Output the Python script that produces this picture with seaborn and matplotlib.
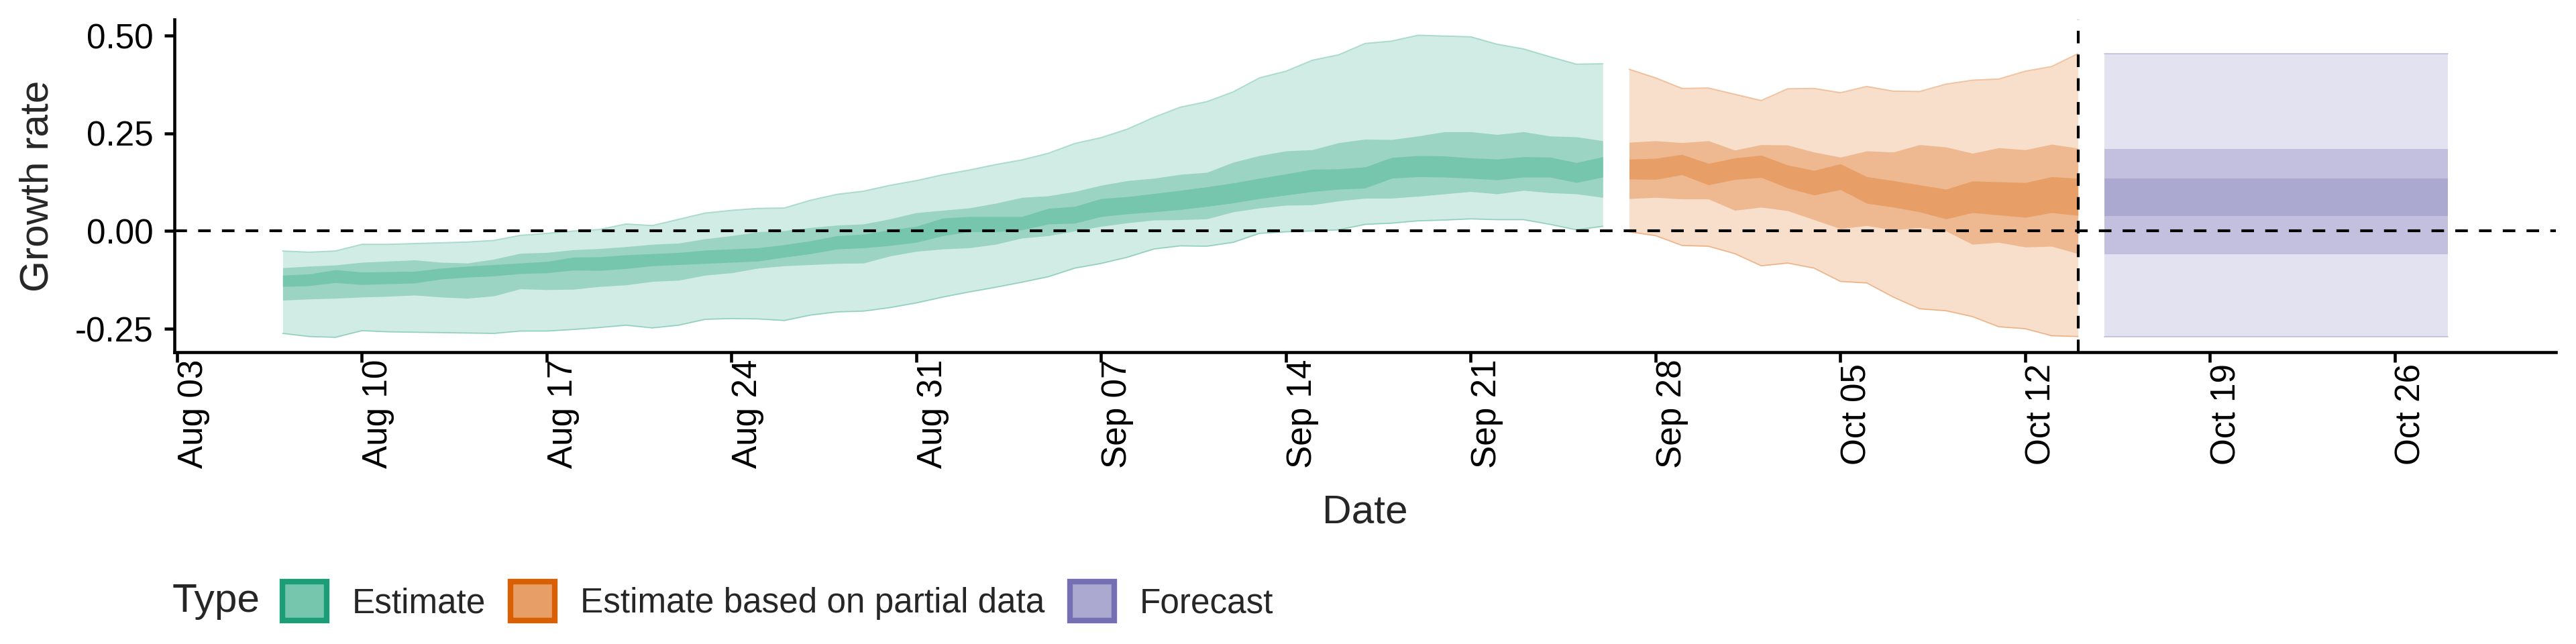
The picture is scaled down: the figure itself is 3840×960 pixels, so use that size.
import pandas as pd
import matplotlib
matplotlib.use("Agg")
import matplotlib.pyplot as plt
import matplotlib.patches as mpatches
from matplotlib.colors import to_rgb
from matplotlib.ticker import FormatStrFormatter
import seaborn as sns

# Daily growth rate credible intervals (90%, 50%, 20%)
est_dates = pd.date_range("2020-08-07", "2020-09-26", freq="D")
est_lo90 = [-0.262, -0.270, -0.272, -0.255, -0.258, -0.259, -0.260, -0.261, -0.262, -0.256,
            -0.256, -0.252, -0.247, -0.241, -0.248, -0.241, -0.226, -0.224, -0.225, -0.229,
            -0.215, -0.207, -0.205, -0.196, -0.184, -0.169, -0.156, -0.144, -0.131, -0.117,
            -0.095, -0.083, -0.067, -0.046, -0.038, -0.039, -0.029, -0.006, -0.002, 0.000,
            0.003, 0.017, 0.020, 0.026, 0.028, 0.031, 0.029, 0.029, 0.017, 0.003, 0.012]
est_hi90 = [-0.051, -0.054, -0.051, -0.034, -0.034, -0.032, -0.030, -0.028, -0.024, -0.011,
            -0.006, 0.000, 0.004, 0.018, 0.014, 0.030, 0.046, 0.053, 0.058, 0.059,
            0.079, 0.094, 0.102, 0.117, 0.129, 0.144, 0.156, 0.170, 0.182, 0.199,
            0.224, 0.239, 0.261, 0.291, 0.317, 0.331, 0.356, 0.392, 0.409, 0.437,
            0.451, 0.480, 0.486, 0.501, 0.499, 0.497, 0.478, 0.466, 0.446, 0.427, 0.428]
est_lo50 = [-0.177, -0.174, -0.172, -0.169, -0.167, -0.164, -0.169, -0.172, -0.166, -0.148,
            -0.150, -0.149, -0.142, -0.138, -0.129, -0.126, -0.113, -0.107, -0.095, -0.089,
            -0.086, -0.083, -0.082, -0.064, -0.052, -0.046, -0.043, -0.034, -0.018, -0.012,
            0.000, 0.012, 0.021, 0.028, 0.029, 0.031, 0.049, 0.059, 0.066, 0.067,
            0.077, 0.084, 0.084, 0.089, 0.095, 0.101, 0.095, 0.104, 0.098, 0.095, 0.086]
est_hi50 = [-0.094, -0.090, -0.087, -0.080, -0.077, -0.074, -0.080, -0.082, -0.072, -0.057,
            -0.055, -0.048, -0.045, -0.040, -0.034, -0.031, -0.020, -0.012, -0.002, 0.001,
            0.009, 0.015, 0.018, 0.031, 0.047, 0.053, 0.059, 0.071, 0.086, 0.090,
            0.101, 0.117, 0.129, 0.135, 0.145, 0.150, 0.176, 0.193, 0.205, 0.208,
            0.226, 0.235, 0.234, 0.243, 0.254, 0.254, 0.247, 0.254, 0.243, 0.241, 0.231]
est_lo20 = [-0.142, -0.140, -0.132, -0.137, -0.135, -0.133, -0.123, -0.118, -0.115, -0.109,
            -0.107, -0.100, -0.101, -0.096, -0.089, -0.086, -0.083, -0.080, -0.077, -0.067,
            -0.058, -0.046, -0.043, -0.037, -0.029, -0.012, -0.002, -0.002, 0.003, 0.018,
            0.020, 0.037, 0.044, 0.049, 0.055, 0.063, 0.072, 0.083, 0.092, 0.101,
            0.107, 0.110, 0.135, 0.139, 0.138, 0.135, 0.131, 0.138, 0.138, 0.124, 0.138]
est_hi20 = [-0.113, -0.110, -0.099, -0.105, -0.104, -0.103, -0.095, -0.090, -0.086, -0.082,
            -0.078, -0.067, -0.066, -0.061, -0.058, -0.055, -0.049, -0.046, -0.043, -0.035,
            -0.025, -0.012, -0.008, 0.003, 0.012, 0.033, 0.037, 0.037, 0.037, 0.058,
            0.063, 0.083, 0.088, 0.096, 0.104, 0.113, 0.123, 0.135, 0.146, 0.158,
            0.159, 0.164, 0.188, 0.193, 0.192, 0.187, 0.184, 0.190, 0.189, 0.175, 0.190]

part_dates = pd.date_range("2020-09-27", "2020-10-14", freq="D")
part_lo90 = [-0.002, -0.012, -0.037, -0.039, -0.058, -0.089, -0.082, -0.095, -0.129,
             -0.133, -0.169, -0.199, -0.204, -0.219, -0.245, -0.250, -0.268, -0.270]
part_hi90 = [0.414, 0.392, 0.365, 0.366, 0.350, 0.334, 0.364, 0.365, 0.354,
             0.370, 0.358, 0.357, 0.376, 0.386, 0.389, 0.409, 0.421, 0.454]
part_lo50 = [0.083, 0.086, 0.082, 0.082, 0.053, 0.061, 0.052, 0.029, 0.006,
             0.014, 0.003, 0.009, 0.000, -0.034, -0.029, -0.041, -0.039, -0.058]
part_hi50 = [0.227, 0.231, 0.226, 0.231, 0.207, 0.221, 0.220, 0.202, 0.189,
             0.205, 0.202, 0.221, 0.215, 0.199, 0.213, 0.208, 0.222, 0.212]
part_lo20 = [0.133, 0.132, 0.144, 0.118, 0.132, 0.137, 0.110, 0.092, 0.106,
             0.071, 0.061, 0.049, 0.031, 0.047, 0.041, 0.035, 0.047, 0.040]
part_hi20 = [0.184, 0.186, 0.196, 0.173, 0.187, 0.194, 0.169, 0.155, 0.172,
             0.139, 0.129, 0.118, 0.107, 0.128, 0.126, 0.124, 0.139, 0.135]

fc_dates = pd.date_range("2020-10-15", "2020-10-28", freq="D")
fc_lo90 = [-0.270, -0.270, -0.270, -0.270, -0.270, -0.270, -0.270,
           -0.270, -0.270, -0.270, -0.270, -0.270, -0.270, -0.270]
fc_hi90 = [0.454, 0.454, 0.454, 0.454, 0.454, 0.454, 0.454,
           0.454, 0.454, 0.454, 0.454, 0.454, 0.454, 0.454]
fc_lo50 = [-0.060, -0.060, -0.060, -0.060, -0.060, -0.060, -0.060,
           -0.060, -0.060, -0.060, -0.060, -0.060, -0.060, -0.060]
fc_hi50 = [0.210, 0.210, 0.210, 0.210, 0.210, 0.210, 0.210,
           0.210, 0.210, 0.210, 0.210, 0.210, 0.210, 0.210]
fc_lo20 = [0.038, 0.038, 0.038, 0.038, 0.038, 0.038, 0.038,
           0.038, 0.038, 0.038, 0.038, 0.038, 0.038, 0.038]
fc_hi20 = [0.135, 0.135, 0.135, 0.135, 0.135, 0.135, 0.135,
           0.135, 0.135, 0.135, 0.135, 0.135, 0.135, 0.135]

types = ["Estimate", "Estimate based on partial data", "Forecast"]
type_colors = ["#1B9E77", "#D95F02", "#7570B3"]
forecast_start = pd.Timestamp("2020-10-14")
tick_dates = pd.date_range("2020-08-03", "2020-10-26", freq="7D")


def shade(color, a):
    # colour of a translucent fill over white
    return tuple(1 - a * (1 - c) for c in to_rgb(color))


segments = [
    (est_dates, est_lo90, est_hi90, est_lo50, est_hi50, est_lo20, est_hi20),
    (part_dates, part_lo90, part_hi90, part_lo50, part_hi50, part_lo20, part_hi20),
    (fc_dates, fc_lo90, fc_hi90, fc_lo50, fc_hi50, fc_lo20, fc_hi20),
]

sns.set_theme(style="ticks")
plt.rcParams["font.family"] = ["Liberation Sans", "DejaVu Sans"]
plt.rcParams["axes.unicode_minus"] = False

fig, ax = plt.subplots(figsize=(12.8, 3.2), dpi=300)
fig.subplots_adjust(left=260 / 3840, right=3810 / 3840, top=1 - 28.6 / 960, bottom=1 - 525 / 960)

edge_rows = []
for (dates, lo90, hi90, lo50, hi50, lo20, hi20), name, col in zip(segments, types, type_colors):
    ax.fill_between(dates, lo90, hi90, color=shade(col, 0.2), lw=0, zorder=1)
    ax.fill_between(dates, lo50, hi50, color=shade(col, 0.44), lw=0, zorder=2)
    ax.fill_between(dates, lo20, hi20, color=shade(col, 0.6), lw=0, zorder=3)
    for d, lo, hi in zip(dates, lo90, hi90):
        edge_rows.append({"date": d, "value": lo, "type": name, "bound": "lower"})
        edge_rows.append({"date": d, "value": hi, "type": name, "bound": "upper"})
edges = pd.DataFrame(edge_rows)

sns.lineplot(data=edges, x="date", y="value", hue="type", units="bound", estimator=None,
             palette=dict(zip(types, type_colors)), alpha=0.35, lw=0.45, legend=False,
             ax=ax, zorder=4)

ax.axhline(0, color="black", lw=1.0, ls=(0, (4.5, 4)), zorder=5)
ax.axvline(forecast_start, color="black", lw=1.0, ls=(0, (4.5, 4)), zorder=5)

ax.set_xlim(pd.Timestamp("2020-08-07") - pd.Timedelta(days=4.1),
            pd.Timestamp("2020-10-28") + pd.Timedelta(days=4.1))
ax.set_ylim(-0.31, 0.542)
ax.set_yticks([-0.25, 0.0, 0.25, 0.5])
ax.yaxis.set_major_formatter(FormatStrFormatter("%.2f"))
ax.set_xticks(tick_dates)
ax.set_xticklabels([d.strftime("%b %d") for d in tick_dates], rotation=90, ha="left", va="center")

sns.despine(ax=ax)
for side in ["left", "bottom"]:
    ax.spines[side].set_linewidth(1.1)
    ax.spines[side].set_color("black")
ax.tick_params(axis="both", length=3.6, width=1.1, color="black", labelsize=12.3, labelcolor="black")
ax.tick_params(axis="x", pad=18.5)
ax.tick_params(axis="y", pad=4)
ax.set_xlabel("")
ax.set_ylabel("")

fig.text(56 / 3840, 1 - 277 / 960, "Growth rate", rotation=90, ha="center", va="center", fontsize=14.5)
fig.text(2035 / 3840, 1 - 764 / 960, "Date", ha="center", va="center", fontsize=14.5)

# legend along the bottom, title on the left
fig.text(257 / 3840, 64 / 960, "Type", ha="left", va="center", fontsize=14.5)
handles = [mpatches.Patch(facecolor=shade(c, 0.6), edgecolor=c, linewidth=2) for c in type_colors]
fig.legend(handles, types, ncol=3, loc="center left", bbox_to_anchor=(421 / 3840, 64 / 960),
           frameon=False, fontsize=12.3, handlelength=1.29, handleheight=1.35,
           handletextpad=0.74, columnspacing=0.72, borderpad=0, borderaxespad=0)

fig.savefig("out.png", dpi=300)
